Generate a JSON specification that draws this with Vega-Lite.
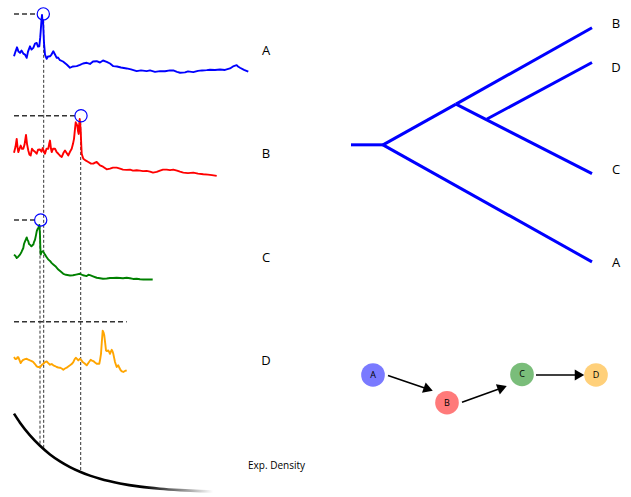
{
  "$schema": "https://vega.github.io/schema/vega-lite/v6.json",
  "width": 631,
  "height": 497,
  "autosize": {"type": "fit", "contains": "padding"},
  "padding": 0,
  "background": "white",
  "config": {"view": {"stroke": null}, "font": "Open Sans"},
  "datasets": {
    "series": [
      {"s":"A","x":14,"y":56.7},{"s":"A","x":15.5,"y":52},{"s":"A","x":17,"y":47.7},{"s":"A","x":18.5,"y":52},{"s":"A","x":20,"y":53.3},{"s":"A","x":21.5,"y":51},{"s":"A","x":23.3,"y":54},{"s":"A","x":25,"y":55},{"s":"A","x":26.7,"y":58.3},{"s":"A","x":28,"y":52},{"s":"A","x":30,"y":46.7},{"s":"A","x":31.5,"y":50},{"s":"A","x":33.3,"y":48.3},{"s":"A","x":35,"y":44},{"s":"A","x":36.7,"y":43.3},{"s":"A","x":38,"y":47},{"s":"A","x":39.3,"y":46.7},{"s":"A","x":40.2,"y":38},{"s":"A","x":40.7,"y":31.7},{"s":"A","x":41.5,"y":20},{"s":"A","x":42,"y":15},{"s":"A","x":42.5,"y":22},{"s":"A","x":43,"y":20},{"s":"A","x":43.5,"y":32},{"s":"A","x":44,"y":43.3},{"s":"A","x":45,"y":55},{"s":"A","x":46.7,"y":59.3},{"s":"A","x":48,"y":57},{"s":"A","x":50,"y":56.7},{"s":"A","x":51.5,"y":55},{"s":"A","x":53.3,"y":51.7},{"s":"A","x":55,"y":55},{"s":"A","x":56.7,"y":58.3},{"s":"A","x":58,"y":58},{"s":"A","x":60,"y":60.7},{"s":"A","x":63,"y":62},{"s":"A","x":66.7,"y":65},{"s":"A","x":70,"y":68.3},{"s":"A","x":73,"y":67},{"s":"A","x":76.7,"y":66.7},{"s":"A","x":80,"y":65.5},{"s":"A","x":83,"y":64},{"s":"A","x":86.7,"y":63.3},{"s":"A","x":90,"y":64.5},{"s":"A","x":93,"y":62},{"s":"A","x":96.7,"y":61.7},{"s":"A","x":100,"y":63},{"s":"A","x":103,"y":61},{"s":"A","x":106.7,"y":62.3},{"s":"A","x":110,"y":64},{"s":"A","x":113.3,"y":66.7},{"s":"A","x":117,"y":67},{"s":"A","x":121,"y":68},{"s":"A","x":126.7,"y":69},{"s":"A","x":131,"y":70},{"s":"A","x":136.7,"y":71.7},{"s":"A","x":141,"y":71},{"s":"A","x":146.7,"y":71.7},{"s":"A","x":150,"y":71},{"s":"A","x":155,"y":72.5},{"s":"A","x":160,"y":71.7},{"s":"A","x":165,"y":71.8},{"s":"A","x":170,"y":71},{"s":"A","x":173.3,"y":71},{"s":"A","x":177,"y":72.5},{"s":"A","x":180,"y":73.3},{"s":"A","x":185,"y":73},{"s":"A","x":188,"y":72},{"s":"A","x":193.3,"y":72.7},{"s":"A","x":198,"y":71.5},{"s":"A","x":202,"y":71},{"s":"A","x":206.7,"y":70.7},{"s":"A","x":210,"y":70.3},{"s":"A","x":215,"y":70.5},{"s":"A","x":220,"y":70},{"s":"A","x":225,"y":70.5},{"s":"A","x":230,"y":69},{"s":"A","x":233,"y":67},{"s":"A","x":236.7,"y":65.7},{"s":"A","x":238,"y":67},{"s":"A","x":240,"y":68.3},{"s":"A","x":244,"y":70.5},{"s":"A","x":248.3,"y":72.3},

      {"s":"B","x":14,"y":154},{"s":"B","x":15.5,"y":148},{"s":"B","x":16.7,"y":140},{"s":"B","x":17.5,"y":148},{"s":"B","x":18.3,"y":153.3},{"s":"B","x":20.7,"y":146.7},{"s":"B","x":22,"y":150},{"s":"B","x":23.3,"y":150},{"s":"B","x":24.5,"y":146},{"s":"B","x":26,"y":136},{"s":"B","x":27,"y":145},{"s":"B","x":28.3,"y":151.7},{"s":"B","x":29.5,"y":156},{"s":"B","x":30.7,"y":156.7},{"s":"B","x":32,"y":150},{"s":"B","x":33.3,"y":151.7},{"s":"B","x":35,"y":153},{"s":"B","x":36.7,"y":155},{"s":"B","x":38,"y":151},{"s":"B","x":40,"y":150.7},{"s":"B","x":41.5,"y":153},{"s":"B","x":42.7,"y":149.3},{"s":"B","x":44,"y":153},{"s":"B","x":45,"y":155},{"s":"B","x":46.5,"y":150},{"s":"B","x":48.3,"y":150},{"s":"B","x":49.2,"y":145},{"s":"B","x":50,"y":141.7},{"s":"B","x":51,"y":150},{"s":"B","x":51.7,"y":153.3},{"s":"B","x":53,"y":150},{"s":"B","x":55,"y":150},{"s":"B","x":56.5,"y":153},{"s":"B","x":58.3,"y":155},{"s":"B","x":60,"y":157},{"s":"B","x":61.7,"y":158.3},{"s":"B","x":63.5,"y":154},{"s":"B","x":65,"y":151.7},{"s":"B","x":66.5,"y":154},{"s":"B","x":68.3,"y":156.7},{"s":"B","x":70,"y":153},{"s":"B","x":71.7,"y":150},{"s":"B","x":73,"y":145},{"s":"B","x":74,"y":140},{"s":"B","x":75,"y":130},{"s":"B","x":75.7,"y":123.3},{"s":"B","x":76.5,"y":125},{"s":"B","x":77.3,"y":126.7},{"s":"B","x":78,"y":132},{"s":"B","x":78.7,"y":135},{"s":"B","x":79.2,"y":125},{"s":"B","x":79.7,"y":120},{"s":"B","x":80.2,"y":125},{"s":"B","x":80.7,"y":131.7},{"s":"B","x":81.2,"y":145},{"s":"B","x":81.7,"y":155},{"s":"B","x":83.3,"y":160},{"s":"B","x":86,"y":162},{"s":"B","x":88.3,"y":163.3},{"s":"B","x":91,"y":165},{"s":"B","x":93.3,"y":165},{"s":"B","x":95,"y":164},{"s":"B","x":96.7,"y":163.3},{"s":"B","x":100,"y":166.7},{"s":"B","x":103,"y":168},{"s":"B","x":106.7,"y":170.7},{"s":"B","x":110,"y":170},{"s":"B","x":113,"y":169},{"s":"B","x":116.7,"y":169},{"s":"B","x":120,"y":170},{"s":"B","x":123,"y":171},{"s":"B","x":126.7,"y":171.3},{"s":"B","x":130,"y":171},{"s":"B","x":133,"y":172},{"s":"B","x":136.7,"y":171.7},{"s":"B","x":140,"y":172},{"s":"B","x":143,"y":172.5},{"s":"B","x":146.7,"y":172.3},{"s":"B","x":150,"y":173},{"s":"B","x":153,"y":174},{"s":"B","x":156.7,"y":173.3},{"s":"B","x":160,"y":172},{"s":"B","x":163,"y":171},{"s":"B","x":166.7,"y":171},{"s":"B","x":170,"y":171.5},{"s":"B","x":173.3,"y":171},{"s":"B","x":177,"y":172},{"s":"B","x":180,"y":173},{"s":"B","x":183.3,"y":174},{"s":"B","x":188,"y":174.5},{"s":"B","x":193.3,"y":174},{"s":"B","x":198,"y":175},{"s":"B","x":203.3,"y":175.7},{"s":"B","x":208,"y":176},{"s":"B","x":212,"y":176.5},{"s":"B","x":216.7,"y":177.3},

      {"s":"C","x":14,"y":256.7},{"s":"C","x":15.5,"y":258},{"s":"C","x":16.7,"y":260},{"s":"C","x":18,"y":259},{"s":"C","x":20,"y":256.7},{"s":"C","x":21.5,"y":254},{"s":"C","x":23.3,"y":250},{"s":"C","x":24,"y":246},{"s":"C","x":25,"y":243.3},{"s":"C","x":26,"y":241},{"s":"C","x":26.7,"y":239.3},{"s":"C","x":27.5,"y":242},{"s":"C","x":28.3,"y":243.3},{"s":"C","x":29,"y":246},{"s":"C","x":30,"y":246.7},{"s":"C","x":31,"y":248},{"s":"C","x":31.7,"y":248.3},{"s":"C","x":32.5,"y":247},{"s":"C","x":33.3,"y":246.7},{"s":"C","x":34,"y":244},{"s":"C","x":35,"y":241.7},{"s":"C","x":36,"y":237},{"s":"C","x":36.7,"y":233.3},{"s":"C","x":37.5,"y":231},{"s":"C","x":38.3,"y":230},{"s":"C","x":38.8,"y":228},{"s":"C","x":39.3,"y":226.7},{"s":"C","x":39.7,"y":232},{"s":"C","x":40,"y":236.7},{"s":"C","x":40.3,"y":248},{"s":"C","x":40.7,"y":256.7},{"s":"C","x":41.5,"y":254},{"s":"C","x":42.7,"y":253.3},{"s":"C","x":44,"y":255},{"s":"C","x":45,"y":256.7},{"s":"C","x":46.5,"y":259},{"s":"C","x":48.3,"y":261.7},{"s":"C","x":50,"y":263},{"s":"C","x":51.5,"y":265},{"s":"C","x":53.3,"y":266.7},{"s":"C","x":56,"y":269},{"s":"C","x":58.3,"y":271.7},{"s":"C","x":61,"y":274},{"s":"C","x":63.3,"y":276},{"s":"C","x":66,"y":277},{"s":"C","x":70,"y":277.7},{"s":"C","x":73,"y":277.5},{"s":"C","x":76,"y":276.8},{"s":"C","x":80,"y":276},{"s":"C","x":83,"y":277.5},{"s":"C","x":86.7,"y":278.3},{"s":"C","x":88.5,"y":277},{"s":"C","x":90,"y":277.3},{"s":"C","x":93,"y":278.5},{"s":"C","x":96.7,"y":280},{"s":"C","x":100,"y":280.5},{"s":"C","x":103,"y":281},{"s":"C","x":106.7,"y":280.7},{"s":"C","x":110,"y":280.3},{"s":"C","x":113,"y":280.2},{"s":"C","x":116.7,"y":280},{"s":"C","x":120,"y":280.2},{"s":"C","x":123,"y":280.5},{"s":"C","x":126.7,"y":280},{"s":"C","x":130,"y":280.5},{"s":"C","x":133,"y":281.2},{"s":"C","x":136.7,"y":281},{"s":"C","x":140,"y":281.5},{"s":"C","x":143.3,"y":281.7},{"s":"C","x":148,"y":281.6},{"s":"C","x":152.7,"y":281.7},

      {"s":"D","x":14,"y":360},{"s":"D","x":15.3,"y":362},{"s":"D","x":16.7,"y":361.7},{"s":"D","x":17.5,"y":360},{"s":"D","x":18.3,"y":360},{"s":"D","x":19.5,"y":363},{"s":"D","x":20.7,"y":366},{"s":"D","x":22,"y":364},{"s":"D","x":23.3,"y":362.7},{"s":"D","x":25,"y":362},{"s":"D","x":26.7,"y":361.7},{"s":"D","x":28.3,"y":362.5},{"s":"D","x":30,"y":363.3},{"s":"D","x":31.7,"y":364},{"s":"D","x":33.3,"y":365},{"s":"D","x":35,"y":367},{"s":"D","x":36.7,"y":369.3},{"s":"D","x":38.3,"y":370},{"s":"D","x":40,"y":370},{"s":"D","x":41.7,"y":368},{"s":"D","x":43.3,"y":366.7},{"s":"D","x":45,"y":365},{"s":"D","x":46.7,"y":364.3},{"s":"D","x":48.3,"y":366},{"s":"D","x":50,"y":367.7},{"s":"D","x":51.7,"y":367},{"s":"D","x":53.3,"y":368.3},{"s":"D","x":55,"y":369},{"s":"D","x":56.7,"y":370},{"s":"D","x":58.3,"y":370.5},{"s":"D","x":60,"y":370.7},{"s":"D","x":61.7,"y":371.5},{"s":"D","x":63.3,"y":372.7},{"s":"D","x":65,"y":371.5},{"s":"D","x":66.7,"y":370.7},{"s":"D","x":68.3,"y":369.5},{"s":"D","x":70,"y":368.3},{"s":"D","x":71.7,"y":367},{"s":"D","x":73.3,"y":365},{"s":"D","x":74.7,"y":362},{"s":"D","x":76,"y":360.7},{"s":"D","x":77.2,"y":362},{"s":"D","x":78.3,"y":363.3},{"s":"D","x":79.2,"y":362.5},{"s":"D","x":80,"y":361.7},{"s":"D","x":81.3,"y":363},{"s":"D","x":82.7,"y":365},{"s":"D","x":84.7,"y":366.5},{"s":"D","x":86.7,"y":368.3},{"s":"D","x":88.7,"y":365.5},{"s":"D","x":90.7,"y":362.7},{"s":"D","x":92,"y":363.5},{"s":"D","x":93.3,"y":364},{"s":"D","x":95,"y":365.5},{"s":"D","x":96.7,"y":366.7},{"s":"D","x":98,"y":366.7},{"s":"D","x":99.3,"y":366.7},{"s":"D","x":100.2,"y":362},{"s":"D","x":101,"y":356.7},{"s":"D","x":101.8,"y":345},{"s":"D","x":102.7,"y":333.3},{"s":"D","x":103.5,"y":335},{"s":"D","x":104.3,"y":338.3},{"s":"D","x":105.2,"y":346},{"s":"D","x":106,"y":353.3},{"s":"D","x":107,"y":354},{"s":"D","x":108.3,"y":353.3},{"s":"D","x":109.2,"y":355},{"s":"D","x":110,"y":356.7},{"s":"D","x":110.8,"y":354.5},{"s":"D","x":111.7,"y":352.7},{"s":"D","x":112.5,"y":354},{"s":"D","x":113.3,"y":356.7},{"s":"D","x":114.2,"y":361},{"s":"D","x":115,"y":365},{"s":"D","x":116,"y":368},{"s":"D","x":116.7,"y":370},{"s":"D","x":117.5,"y":369},{"s":"D","x":118.3,"y":368.3},{"s":"D","x":119.5,"y":371},{"s":"D","x":120.7,"y":373.3},{"s":"D","x":122,"y":374.5},{"s":"D","x":123.3,"y":375},{"s":"D","x":125,"y":374},{"s":"D","x":126.7,"y":373.3}
    ],
    "density": [
      {"x":14,"y":417},{"x":20,"y":426.1},{"x":30,"y":438.9},{"x":40,"y":449.4},{"x":50,"y":458.1},{"x":60,"y":465.1},{"x":70,"y":470.9},{"x":80,"y":475.6},{"x":90,"y":479.5},{"x":100,"y":482.7},{"x":120,"y":487.4},{"x":140,"y":490.6},{"x":160,"y":492.7},{"x":180,"y":494.1},{"x":200,"y":495.1},{"x":213,"y":495.5}
    ],
    "hdash": [
      {"x":14,"x2":38,"y":14,"y2":14},
      {"x":14,"x2":75.5,"y":116.7,"y2":116.7},
      {"x":14,"x2":35.5,"y":221.7,"y2":221.7},
      {"x":14,"x2":126.7,"y":324.3,"y2":324.3}
    ],
    "vdash": [
      {"x":43.7,"x2":43.7,"y":20,"y2":452.5},
      {"x":40,"x2":40,"y":227.5,"y2":449.4},
      {"x":80.7,"x2":80.7,"y":123,"y2":476}
    ],
    "peaks": [
      {"x":43.3,"y":14},{"x":81,"y":116.7},{"x":40.7,"y":221.7}
    ],
    "tree": [
      {"x":351,"y":146,"x2":383,"y2":146},
      {"x":383,"y":146,"x2":592,"y2":264},
      {"x":383,"y":146,"x2":456,"y2":105},
      {"x":456,"y":105,"x2":592,"y2":28},
      {"x":456,"y":105,"x2":592,"y2":175},
      {"x":487,"y":120,"x2":592,"y2":63}
    ],
    "arrows": [
      {"x":388,"y":378.5,"x2":428.3,"y2":392.3},
      {"x":462,"y":405.5,"x2":502.3,"y2":390.8},
      {"x":536,"y":378,"x2":580,"y2":378}
    ],
    "heads": [
      {"x":428.3,"y":392.3,"a":19.6},
      {"x":502.3,"y":390.8,"a":-20.7},
      {"x":579.5,"y":378,"a":0}
    ],
    "nodes": [
      {"s":"A","x":373,"y":378},{"s":"B","x":447,"y":406},{"s":"C","x":522,"y":377.5},{"s":"D","x":596,"y":378}
    ],
    "bigLabels": [
      {"t":"A","x":266,"y":51.5},{"t":"B","x":266,"y":155.5},{"t":"C","x":266,"y":260.5},{"t":"D","x":266,"y":363.5},
      {"t":"B","x":616,"y":24.5},{"t":"D","x":616,"y":68.5},{"t":"C","x":616,"y":171.5},{"t":"A","x":616,"y":265.5}
    ],
    "small": [
      {"t":"Exp. Density","x":248,"y":469.5}
    ]
  },
  "layer": [
    {
      "data": {"name": "vdash"},
      "mark": {"type": "rule", "color": "#333333", "strokeWidth": 1, "strokeDash": [3, 2]},
      "encoding": {
        "x": {"field": "x", "type": "quantitative", "scale": {"domain": [0, 631], "nice": false, "zero": false}, "axis": null},
        "y": {"field": "y", "type": "quantitative", "scale": {"domain": [0, 497], "reverse": true, "nice": false, "zero": false}, "axis": null},
        "x2": {"field": "x2"},
        "y2": {"field": "y2"}
      }
    },
    {
      "data": {"name": "hdash"},
      "mark": {"type": "rule", "color": "#333333", "strokeWidth": 1.5, "strokeDash": [5, 3]},
      "encoding": {
        "x": {"field": "x", "type": "quantitative"},
        "y": {"field": "y", "type": "quantitative"},
        "x2": {"field": "x2"},
        "y2": {"field": "y2"}
      }
    },
    {
      "data": {"name": "series"},
      "mark": {"type": "line", "strokeWidth": 1.9, "strokeJoin": "round"},
      "encoding": {
        "x": {"field": "x", "type": "quantitative"},
        "y": {"field": "y", "type": "quantitative"},
        "color": {"field": "s", "type": "nominal", "scale": {"domain": ["A", "B", "C", "D"], "range": ["#0000ff", "#ff0000", "#008000", "#ffa500"]}, "legend": null}
      }
    },
    {
      "data": {"name": "density"},
      "mark": {
        "type": "line",
        "strokeWidth": 2.6,
        "interpolate": "monotone",
        "color": {"gradient": "linear", "x1": 0, "x2": 1, "y1": 0, "y2": 0, "stops": [{"offset": 0, "color": "#000000"}, {"offset": 0.65, "color": "#000000"}, {"offset": 1, "color": "#ffffff"}]}
      },
      "encoding": {
        "x": {"field": "x", "type": "quantitative"},
        "y": {"field": "y", "type": "quantitative"}
      }
    },
    {
      "data": {"name": "peaks"},
      "mark": {"type": "point", "shape": "circle", "filled": false, "color": "#0000ff", "strokeWidth": 1.2, "size": 150, "opacity": 1},
      "encoding": {
        "x": {"field": "x", "type": "quantitative"},
        "y": {"field": "y", "type": "quantitative"}
      }
    },
    {
      "data": {"name": "tree"},
      "mark": {"type": "rule", "color": "#0000ff", "strokeWidth": 3},
      "encoding": {
        "x": {"field": "x", "type": "quantitative"},
        "y": {"field": "y", "type": "quantitative"},
        "x2": {"field": "x2"},
        "y2": {"field": "y2"}
      }
    },
    {
      "data": {"name": "arrows"},
      "mark": {"type": "rule", "color": "#000000", "strokeWidth": 1.6},
      "encoding": {
        "x": {"field": "x", "type": "quantitative"},
        "y": {"field": "y", "type": "quantitative"},
        "x2": {"field": "x2"},
        "y2": {"field": "y2"}
      }
    },
    {
      "data": {"name": "heads"},
      "mark": {"type": "point", "shape": "triangle-right", "filled": true, "color": "#000000", "size": 120, "opacity": 1},
      "encoding": {
        "x": {"field": "x", "type": "quantitative"},
        "y": {"field": "y", "type": "quantitative"},
        "angle": {"field": "a", "type": "quantitative", "scale": null}
      }
    },
    {
      "data": {"name": "nodes"},
      "mark": {"type": "point", "shape": "circle", "filled": true, "size": 560, "opacity": 0.52, "strokeWidth": 0},
      "encoding": {
        "x": {"field": "x", "type": "quantitative"},
        "y": {"field": "y", "type": "quantitative"},
        "color": {"field": "s", "type": "nominal", "legend": null}
      }
    },
    {
      "data": {"name": "nodes"},
      "mark": {"type": "text", "font": "Open Sans", "fontSize": 9, "color": "#000000", "align": "center", "baseline": "middle"},
      "encoding": {
        "x": {"field": "x", "type": "quantitative"},
        "y": {"field": "y", "type": "quantitative"},
        "text": {"field": "s"}
      }
    },
    {
      "data": {"name": "bigLabels"},
      "mark": {"type": "text", "font": "Open Sans", "fontSize": 13, "color": "#000000", "align": "center", "baseline": "middle"},
      "encoding": {
        "x": {"field": "x", "type": "quantitative"},
        "y": {"field": "y", "type": "quantitative"},
        "text": {"field": "t"}
      }
    },
    {
      "data": {"name": "small"},
      "mark": {"type": "text", "font": "Open Sans", "fontSize": 10, "color": "#000000", "align": "left", "baseline": "middle"},
      "encoding": {
        "x": {"field": "x", "type": "quantitative"},
        "y": {"field": "y", "type": "quantitative"},
        "text": {"field": "t"}
      }
    }
  ]
}
